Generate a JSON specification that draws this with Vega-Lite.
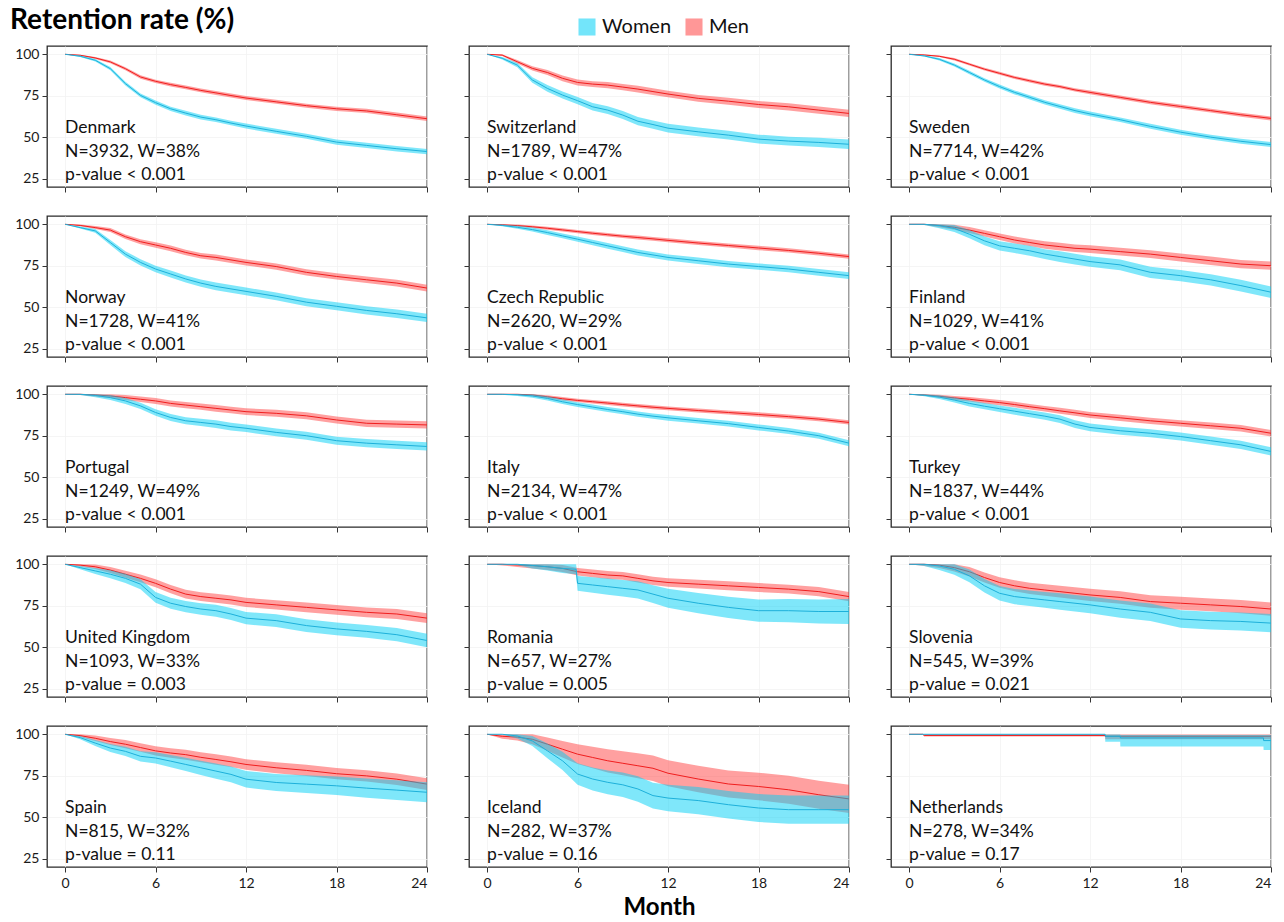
{
"$schema": "https://vega.github.io/schema/vega-lite/v6.json",
"padding": {"left": 10, "top": 7, "right": 5, "bottom": 0},
"title": {"text": "Retention rate (%)", "anchor": "start", "frame": "group", "fontSize": 28, "fontWeight": "bold", "font": "Lato", "color": "#000000", "dx": -37, "offset": -18},
"datasets": {
"lab": [
{"c":"Denmark","t":"Denmark\nN=3932, W=38%\np-value < 0.001"},
{"c":"Switzerland","t":"Switzerland\nN=1789, W=47%\np-value < 0.001"},
{"c":"Sweden","t":"Sweden\nN=7714, W=42%\np-value < 0.001"},
{"c":"Norway","t":"Norway\nN=1728, W=41%\np-value < 0.001"},
{"c":"Czech Republic","t":"Czech Republic\nN=2620, W=29%\np-value < 0.001"},
{"c":"Finland","t":"Finland\nN=1029, W=41%\np-value < 0.001"},
{"c":"Portugal","t":"Portugal\nN=1249, W=49%\np-value < 0.001"},
{"c":"Italy","t":"Italy\nN=2134, W=47%\np-value < 0.001"},
{"c":"Turkey","t":"Turkey\nN=1837, W=44%\np-value < 0.001"},
{"c":"United Kingdom","t":"United Kingdom\nN=1093, W=33%\np-value = 0.003"},
{"c":"Romania","t":"Romania\nN=657, W=27%\np-value = 0.005"},
{"c":"Slovenia","t":"Slovenia\nN=545, W=39%\np-value = 0.021"},
{"c":"Spain","t":"Spain\nN=815, W=32%\np-value = 0.11"},
{"c":"Iceland","t":"Iceland\nN=282, W=37%\np-value = 0.16"},
{"c":"Netherlands","t":"Netherlands\nN=278, W=34%\np-value = 0.17"}
],
"km": [
{"c":"Denmark","s":"Women","m":0,"v":100,"lo":100,"hi":100},
{"c":"Denmark","s":"Women","m":1,"v":98.8,"lo":98.4,"hi":99.2},
{"c":"Denmark","s":"Women","m":2,"v":96.4,"lo":95.7,"hi":97.1},
{"c":"Denmark","s":"Women","m":3,"v":91.3,"lo":90.3,"hi":92.3},
{"c":"Denmark","s":"Women","m":4,"v":82.3,"lo":81.2,"hi":83.4},
{"c":"Denmark","s":"Women","m":5,"v":75.2,"lo":74,"hi":76.4},
{"c":"Denmark","s":"Women","m":6,"v":70.8,"lo":69.5,"hi":72.1},
{"c":"Denmark","s":"Women","m":7,"v":67.1,"lo":65.8,"hi":68.4},
{"c":"Denmark","s":"Women","m":8,"v":64.5,"lo":63.1,"hi":65.9},
{"c":"Denmark","s":"Women","m":9,"v":62.1,"lo":60.7,"hi":63.5},
{"c":"Denmark","s":"Women","m":10,"v":60.5,"lo":59.1,"hi":61.9},
{"c":"Denmark","s":"Women","m":11,"v":58.5,"lo":57.1,"hi":59.9},
{"c":"Denmark","s":"Women","m":12,"v":56.7,"lo":55.2,"hi":58.2},
{"c":"Denmark","s":"Women","m":14,"v":53.5,"lo":52,"hi":55},
{"c":"Denmark","s":"Women","m":16,"v":50.5,"lo":49,"hi":52},
{"c":"Denmark","s":"Women","m":18,"v":47,"lo":45.4,"hi":48.6},
{"c":"Denmark","s":"Women","m":20,"v":45,"lo":43.4,"hi":46.6},
{"c":"Denmark","s":"Women","m":22,"v":43,"lo":41.4,"hi":44.6},
{"c":"Denmark","s":"Women","m":24,"v":41.3,"lo":39.7,"hi":42.9},
{"c":"Denmark","s":"Men","m":0,"v":100,"lo":100,"hi":100},
{"c":"Denmark","s":"Men","m":1,"v":99.4,"lo":99.1,"hi":99.7},
{"c":"Denmark","s":"Men","m":2,"v":97.8,"lo":97.2,"hi":98.4},
{"c":"Denmark","s":"Men","m":3,"v":95.4,"lo":94.6,"hi":96.2},
{"c":"Denmark","s":"Men","m":4,"v":91.3,"lo":90.4,"hi":92.2},
{"c":"Denmark","s":"Men","m":5,"v":86.3,"lo":85.3,"hi":87.3},
{"c":"Denmark","s":"Men","m":6,"v":83.7,"lo":82.7,"hi":84.7},
{"c":"Denmark","s":"Men","m":7,"v":81.7,"lo":80.6,"hi":82.8},
{"c":"Denmark","s":"Men","m":8,"v":80,"lo":78.9,"hi":81.1},
{"c":"Denmark","s":"Men","m":9,"v":78.2,"lo":77.1,"hi":79.3},
{"c":"Denmark","s":"Men","m":10,"v":76.7,"lo":75.5,"hi":77.9},
{"c":"Denmark","s":"Men","m":11,"v":75.1,"lo":73.9,"hi":76.3},
{"c":"Denmark","s":"Men","m":12,"v":73.6,"lo":72.4,"hi":74.8},
{"c":"Denmark","s":"Men","m":14,"v":71.3,"lo":70.1,"hi":72.5},
{"c":"Denmark","s":"Men","m":16,"v":69,"lo":67.8,"hi":70.2},
{"c":"Denmark","s":"Men","m":18,"v":67.1,"lo":65.8,"hi":68.4},
{"c":"Denmark","s":"Men","m":20,"v":65.8,"lo":64.5,"hi":67.1},
{"c":"Denmark","s":"Men","m":22,"v":63.5,"lo":62.2,"hi":64.8},
{"c":"Denmark","s":"Men","m":24,"v":61.1,"lo":59.8,"hi":62.4},
{"c":"Switzerland","s":"Women","m":0,"v":100,"lo":100,"hi":100},
{"c":"Switzerland","s":"Women","m":1,"v":97.6,"lo":96.9,"hi":98.3},
{"c":"Switzerland","s":"Women","m":2,"v":93.5,"lo":92.2,"hi":94.8},
{"c":"Switzerland","s":"Women","m":3,"v":84.5,"lo":82.8,"hi":86.2},
{"c":"Switzerland","s":"Women","m":4,"v":79.4,"lo":77.4,"hi":81.4},
{"c":"Switzerland","s":"Women","m":5,"v":75.4,"lo":73.3,"hi":77.5},
{"c":"Switzerland","s":"Women","m":6,"v":72,"lo":69.8,"hi":74.2},
{"c":"Switzerland","s":"Women","m":7,"v":68.3,"lo":66,"hi":70.6},
{"c":"Switzerland","s":"Women","m":8,"v":66.3,"lo":63.9,"hi":68.7},
{"c":"Switzerland","s":"Women","m":9,"v":63.3,"lo":60.9,"hi":65.7},
{"c":"Switzerland","s":"Women","m":10,"v":59.6,"lo":57.1,"hi":62.1},
{"c":"Switzerland","s":"Women","m":11,"v":57.6,"lo":55.1,"hi":60.1},
{"c":"Switzerland","s":"Women","m":12,"v":55.4,"lo":52.8,"hi":58},
{"c":"Switzerland","s":"Women","m":14,"v":53.2,"lo":50.6,"hi":55.8},
{"c":"Switzerland","s":"Women","m":16,"v":51.2,"lo":48.5,"hi":53.9},
{"c":"Switzerland","s":"Women","m":18,"v":48.8,"lo":46.1,"hi":51.5},
{"c":"Switzerland","s":"Women","m":20,"v":47.6,"lo":44.9,"hi":50.3},
{"c":"Switzerland","s":"Women","m":22,"v":46.8,"lo":44,"hi":49.6},
{"c":"Switzerland","s":"Women","m":24,"v":45.7,"lo":42.9,"hi":48.5},
{"c":"Switzerland","s":"Men","m":0,"v":100,"lo":100,"hi":100},
{"c":"Switzerland","s":"Men","m":1,"v":99.5,"lo":98.9,"hi":100},
{"c":"Switzerland","s":"Men","m":2,"v":95.5,"lo":94.5,"hi":96.5},
{"c":"Switzerland","s":"Men","m":3,"v":91.5,"lo":90.2,"hi":92.8},
{"c":"Switzerland","s":"Men","m":4,"v":89,"lo":87.5,"hi":90.5},
{"c":"Switzerland","s":"Men","m":5,"v":85.5,"lo":83.8,"hi":87.2},
{"c":"Switzerland","s":"Men","m":6,"v":83,"lo":81.2,"hi":84.8},
{"c":"Switzerland","s":"Men","m":7,"v":82,"lo":80.2,"hi":83.8},
{"c":"Switzerland","s":"Men","m":8,"v":81.4,"lo":79.5,"hi":83.3},
{"c":"Switzerland","s":"Men","m":9,"v":80.2,"lo":78.3,"hi":82.1},
{"c":"Switzerland","s":"Men","m":10,"v":79,"lo":77,"hi":81},
{"c":"Switzerland","s":"Men","m":11,"v":77.5,"lo":75.5,"hi":79.5},
{"c":"Switzerland","s":"Men","m":12,"v":76,"lo":74,"hi":78},
{"c":"Switzerland","s":"Men","m":14,"v":73.4,"lo":71.3,"hi":75.5},
{"c":"Switzerland","s":"Men","m":16,"v":71.7,"lo":69.6,"hi":73.8},
{"c":"Switzerland","s":"Men","m":18,"v":69.7,"lo":67.6,"hi":71.8},
{"c":"Switzerland","s":"Men","m":20,"v":68.3,"lo":66.1,"hi":70.5},
{"c":"Switzerland","s":"Men","m":22,"v":66.3,"lo":64.1,"hi":68.5},
{"c":"Switzerland","s":"Men","m":24,"v":64.3,"lo":62.1,"hi":66.5},
{"c":"Sweden","s":"Women","m":0,"v":100,"lo":100,"hi":100},
{"c":"Sweden","s":"Women","m":1,"v":99,"lo":98.6,"hi":99.4},
{"c":"Sweden","s":"Women","m":2,"v":97,"lo":96.3,"hi":97.7},
{"c":"Sweden","s":"Women","m":3,"v":93.5,"lo":92.6,"hi":94.4},
{"c":"Sweden","s":"Women","m":4,"v":89,"lo":88,"hi":90},
{"c":"Sweden","s":"Women","m":5,"v":84.5,"lo":83.4,"hi":85.6},
{"c":"Sweden","s":"Women","m":6,"v":80.5,"lo":79.3,"hi":81.7},
{"c":"Sweden","s":"Women","m":7,"v":77,"lo":75.8,"hi":78.2},
{"c":"Sweden","s":"Women","m":8,"v":74,"lo":72.7,"hi":75.3},
{"c":"Sweden","s":"Women","m":9,"v":71,"lo":69.7,"hi":72.3},
{"c":"Sweden","s":"Women","m":10,"v":68.5,"lo":67.1,"hi":69.9},
{"c":"Sweden","s":"Women","m":11,"v":66,"lo":64.6,"hi":67.4},
{"c":"Sweden","s":"Women","m":12,"v":64,"lo":62.6,"hi":65.4},
{"c":"Sweden","s":"Women","m":14,"v":60.5,"lo":59.1,"hi":61.9},
{"c":"Sweden","s":"Women","m":16,"v":56.5,"lo":55,"hi":58},
{"c":"Sweden","s":"Women","m":18,"v":53,"lo":51.5,"hi":54.5},
{"c":"Sweden","s":"Women","m":20,"v":50,"lo":48.5,"hi":51.5},
{"c":"Sweden","s":"Women","m":22,"v":47.5,"lo":46,"hi":49},
{"c":"Sweden","s":"Women","m":24,"v":45.5,"lo":44,"hi":47},
{"c":"Sweden","s":"Men","m":0,"v":100,"lo":100,"hi":100},
{"c":"Sweden","s":"Men","m":1,"v":99.6,"lo":99.3,"hi":99.9},
{"c":"Sweden","s":"Men","m":2,"v":98.8,"lo":98.3,"hi":99.3},
{"c":"Sweden","s":"Men","m":3,"v":97,"lo":96.3,"hi":97.7},
{"c":"Sweden","s":"Men","m":4,"v":94,"lo":93.2,"hi":94.8},
{"c":"Sweden","s":"Men","m":5,"v":91,"lo":90.2,"hi":91.8},
{"c":"Sweden","s":"Men","m":6,"v":88.5,"lo":87.6,"hi":89.4},
{"c":"Sweden","s":"Men","m":7,"v":86,"lo":85.1,"hi":86.9},
{"c":"Sweden","s":"Men","m":8,"v":84,"lo":83,"hi":85},
{"c":"Sweden","s":"Men","m":9,"v":82,"lo":81,"hi":83},
{"c":"Sweden","s":"Men","m":10,"v":80.5,"lo":79.5,"hi":81.5},
{"c":"Sweden","s":"Men","m":11,"v":78.5,"lo":77.5,"hi":79.5},
{"c":"Sweden","s":"Men","m":12,"v":77,"lo":75.9,"hi":78.1},
{"c":"Sweden","s":"Men","m":14,"v":74,"lo":72.9,"hi":75.1},
{"c":"Sweden","s":"Men","m":16,"v":71,"lo":69.9,"hi":72.1},
{"c":"Sweden","s":"Men","m":18,"v":68.5,"lo":67.3,"hi":69.7},
{"c":"Sweden","s":"Men","m":20,"v":66,"lo":64.8,"hi":67.2},
{"c":"Sweden","s":"Men","m":22,"v":63.5,"lo":62.3,"hi":64.7},
{"c":"Sweden","s":"Men","m":24,"v":61.3,"lo":60.1,"hi":62.5},
{"c":"Norway","s":"Women","m":0,"v":100,"lo":100,"hi":100},
{"c":"Norway","s":"Women","m":1,"v":98,"lo":97.4,"hi":98.6},
{"c":"Norway","s":"Women","m":2,"v":96,"lo":94.9,"hi":97.1},
{"c":"Norway","s":"Women","m":3,"v":89,"lo":87.5,"hi":90.5},
{"c":"Norway","s":"Women","m":4,"v":82,"lo":80.2,"hi":83.8},
{"c":"Norway","s":"Women","m":5,"v":77,"lo":75.1,"hi":78.9},
{"c":"Norway","s":"Women","m":6,"v":73,"lo":71,"hi":75},
{"c":"Norway","s":"Women","m":7,"v":70,"lo":67.9,"hi":72.1},
{"c":"Norway","s":"Women","m":8,"v":67,"lo":64.9,"hi":69.1},
{"c":"Norway","s":"Women","m":9,"v":64.5,"lo":62.3,"hi":66.7},
{"c":"Norway","s":"Women","m":10,"v":62.5,"lo":60.2,"hi":64.8},
{"c":"Norway","s":"Women","m":11,"v":61,"lo":58.7,"hi":63.3},
{"c":"Norway","s":"Women","m":12,"v":59.5,"lo":57.2,"hi":61.8},
{"c":"Norway","s":"Women","m":14,"v":56.5,"lo":54.1,"hi":58.9},
{"c":"Norway","s":"Women","m":16,"v":53,"lo":50.6,"hi":55.4},
{"c":"Norway","s":"Women","m":18,"v":50.5,"lo":48.1,"hi":52.9},
{"c":"Norway","s":"Women","m":20,"v":48,"lo":45.5,"hi":50.5},
{"c":"Norway","s":"Women","m":22,"v":46,"lo":43.5,"hi":48.5},
{"c":"Norway","s":"Women","m":24,"v":43.5,"lo":41,"hi":46},
{"c":"Norway","s":"Men","m":0,"v":100,"lo":100,"hi":100},
{"c":"Norway","s":"Men","m":1,"v":99.3,"lo":98.8,"hi":99.8},
{"c":"Norway","s":"Men","m":2,"v":98,"lo":97.1,"hi":98.9},
{"c":"Norway","s":"Men","m":3,"v":96.5,"lo":95.3,"hi":97.7},
{"c":"Norway","s":"Men","m":4,"v":92.5,"lo":91.1,"hi":93.9},
{"c":"Norway","s":"Men","m":5,"v":89.5,"lo":88,"hi":91},
{"c":"Norway","s":"Men","m":6,"v":87.5,"lo":85.9,"hi":89.1},
{"c":"Norway","s":"Men","m":7,"v":85.5,"lo":83.8,"hi":87.2},
{"c":"Norway","s":"Men","m":8,"v":83,"lo":81.3,"hi":84.7},
{"c":"Norway","s":"Men","m":9,"v":81,"lo":79.3,"hi":82.7},
{"c":"Norway","s":"Men","m":10,"v":80,"lo":78.2,"hi":81.8},
{"c":"Norway","s":"Men","m":11,"v":78.5,"lo":76.7,"hi":80.3},
{"c":"Norway","s":"Men","m":12,"v":77,"lo":75.2,"hi":78.8},
{"c":"Norway","s":"Men","m":14,"v":74.5,"lo":72.6,"hi":76.4},
{"c":"Norway","s":"Men","m":16,"v":71,"lo":69.1,"hi":72.9},
{"c":"Norway","s":"Men","m":18,"v":68.5,"lo":66.6,"hi":70.4},
{"c":"Norway","s":"Men","m":20,"v":66.5,"lo":64.5,"hi":68.5},
{"c":"Norway","s":"Men","m":22,"v":64.5,"lo":62.5,"hi":66.5},
{"c":"Norway","s":"Men","m":24,"v":61.5,"lo":59.5,"hi":63.5},
{"c":"Czech Republic","s":"Women","m":0,"v":100,"lo":100,"hi":100},
{"c":"Czech Republic","s":"Women","m":1,"v":99.3,"lo":98.8,"hi":99.8},
{"c":"Czech Republic","s":"Women","m":2,"v":98.2,"lo":97.3,"hi":99.1},
{"c":"Czech Republic","s":"Women","m":3,"v":96.8,"lo":95.6,"hi":98},
{"c":"Czech Republic","s":"Women","m":4,"v":95,"lo":93.6,"hi":96.4},
{"c":"Czech Republic","s":"Women","m":5,"v":93,"lo":91.5,"hi":94.5},
{"c":"Czech Republic","s":"Women","m":6,"v":91,"lo":89.4,"hi":92.6},
{"c":"Czech Republic","s":"Women","m":7,"v":89,"lo":87.3,"hi":90.7},
{"c":"Czech Republic","s":"Women","m":8,"v":87,"lo":85.3,"hi":88.7},
{"c":"Czech Republic","s":"Women","m":9,"v":85,"lo":83.3,"hi":86.7},
{"c":"Czech Republic","s":"Women","m":10,"v":83,"lo":81.2,"hi":84.8},
{"c":"Czech Republic","s":"Women","m":11,"v":81.5,"lo":79.7,"hi":83.3},
{"c":"Czech Republic","s":"Women","m":12,"v":80,"lo":78.2,"hi":81.8},
{"c":"Czech Republic","s":"Women","m":14,"v":78,"lo":76.1,"hi":79.9},
{"c":"Czech Republic","s":"Women","m":16,"v":76,"lo":74.1,"hi":77.9},
{"c":"Czech Republic","s":"Women","m":18,"v":74.5,"lo":72.6,"hi":76.4},
{"c":"Czech Republic","s":"Women","m":20,"v":73,"lo":71,"hi":75},
{"c":"Czech Republic","s":"Women","m":22,"v":71,"lo":69,"hi":73},
{"c":"Czech Republic","s":"Women","m":24,"v":69,"lo":67,"hi":71},
{"c":"Czech Republic","s":"Men","m":0,"v":100,"lo":100,"hi":100},
{"c":"Czech Republic","s":"Men","m":1,"v":99.7,"lo":99.4,"hi":100},
{"c":"Czech Republic","s":"Men","m":2,"v":99.2,"lo":98.6,"hi":99.8},
{"c":"Czech Republic","s":"Men","m":3,"v":98.5,"lo":97.7,"hi":99.3},
{"c":"Czech Republic","s":"Men","m":4,"v":97.6,"lo":96.7,"hi":98.5},
{"c":"Czech Republic","s":"Men","m":5,"v":96.6,"lo":95.6,"hi":97.6},
{"c":"Czech Republic","s":"Men","m":6,"v":95.6,"lo":94.6,"hi":96.6},
{"c":"Czech Republic","s":"Men","m":7,"v":94.6,"lo":93.5,"hi":95.7},
{"c":"Czech Republic","s":"Men","m":8,"v":93.7,"lo":92.6,"hi":94.8},
{"c":"Czech Republic","s":"Men","m":9,"v":92.8,"lo":91.7,"hi":93.9},
{"c":"Czech Republic","s":"Men","m":10,"v":92,"lo":90.8,"hi":93.2},
{"c":"Czech Republic","s":"Men","m":11,"v":91.2,"lo":90,"hi":92.4},
{"c":"Czech Republic","s":"Men","m":12,"v":90.3,"lo":89.1,"hi":91.5},
{"c":"Czech Republic","s":"Men","m":14,"v":88.7,"lo":87.5,"hi":89.9},
{"c":"Czech Republic","s":"Men","m":16,"v":87.2,"lo":86,"hi":88.4},
{"c":"Czech Republic","s":"Men","m":18,"v":85.7,"lo":84.4,"hi":87},
{"c":"Czech Republic","s":"Men","m":20,"v":84.2,"lo":82.9,"hi":85.5},
{"c":"Czech Republic","s":"Men","m":22,"v":82.5,"lo":81.2,"hi":83.8},
{"c":"Czech Republic","s":"Men","m":24,"v":80.5,"lo":79.2,"hi":81.8},
{"c":"Finland","s":"Women","m":0,"v":100,"lo":100,"hi":100},
{"c":"Finland","s":"Women","m":1,"v":100,"lo":99.5,"hi":100},
{"c":"Finland","s":"Women","m":2,"v":99.2,"lo":97.6,"hi":100},
{"c":"Finland","s":"Women","m":3,"v":97.5,"lo":95.4,"hi":99.6},
{"c":"Finland","s":"Women","m":4,"v":94,"lo":91.5,"hi":96.5},
{"c":"Finland","s":"Women","m":5,"v":90,"lo":87.4,"hi":92.6},
{"c":"Finland","s":"Women","m":6,"v":87,"lo":84.2,"hi":89.8},
{"c":"Finland","s":"Women","m":7,"v":85.5,"lo":82.6,"hi":88.4},
{"c":"Finland","s":"Women","m":8,"v":84,"lo":81,"hi":87},
{"c":"Finland","s":"Women","m":9,"v":82,"lo":79,"hi":85},
{"c":"Finland","s":"Women","m":10,"v":80.5,"lo":77.3,"hi":83.7},
{"c":"Finland","s":"Women","m":11,"v":79,"lo":75.8,"hi":82.2},
{"c":"Finland","s":"Women","m":12,"v":77.5,"lo":74.3,"hi":80.7},
{"c":"Finland","s":"Women","m":14,"v":75.5,"lo":72.2,"hi":78.8},
{"c":"Finland","s":"Women","m":16,"v":71,"lo":67.6,"hi":74.4},
{"c":"Finland","s":"Women","m":18,"v":69,"lo":65.6,"hi":72.4},
{"c":"Finland","s":"Women","m":20,"v":66.5,"lo":63.1,"hi":69.9},
{"c":"Finland","s":"Women","m":22,"v":63,"lo":59.5,"hi":66.5},
{"c":"Finland","s":"Women","m":24,"v":59,"lo":55.5,"hi":62.5},
{"c":"Finland","s":"Men","m":0,"v":100,"lo":100,"hi":100},
{"c":"Finland","s":"Men","m":1,"v":100,"lo":99.6,"hi":100},
{"c":"Finland","s":"Men","m":2,"v":99.3,"lo":98.2,"hi":100},
{"c":"Finland","s":"Men","m":3,"v":98.2,"lo":96.7,"hi":99.7},
{"c":"Finland","s":"Men","m":4,"v":96.5,"lo":94.7,"hi":98.3},
{"c":"Finland","s":"Men","m":5,"v":94.5,"lo":92.6,"hi":96.4},
{"c":"Finland","s":"Men","m":6,"v":92.5,"lo":90.5,"hi":94.5},
{"c":"Finland","s":"Men","m":7,"v":90.5,"lo":88.4,"hi":92.6},
{"c":"Finland","s":"Men","m":8,"v":89,"lo":86.9,"hi":91.1},
{"c":"Finland","s":"Men","m":9,"v":87.5,"lo":85.3,"hi":89.7},
{"c":"Finland","s":"Men","m":10,"v":86.5,"lo":84.2,"hi":88.8},
{"c":"Finland","s":"Men","m":11,"v":85.5,"lo":83.2,"hi":87.8},
{"c":"Finland","s":"Men","m":12,"v":85,"lo":82.7,"hi":87.3},
{"c":"Finland","s":"Men","m":14,"v":83.5,"lo":81.1,"hi":85.9},
{"c":"Finland","s":"Men","m":16,"v":82,"lo":79.6,"hi":84.4},
{"c":"Finland","s":"Men","m":18,"v":80,"lo":77.6,"hi":82.4},
{"c":"Finland","s":"Men","m":20,"v":78,"lo":75.5,"hi":80.5},
{"c":"Finland","s":"Men","m":22,"v":76,"lo":73.5,"hi":78.5},
{"c":"Finland","s":"Men","m":24,"v":75,"lo":72.5,"hi":77.5},
{"c":"Portugal","s":"Women","m":0,"v":100,"lo":100,"hi":100},
{"c":"Portugal","s":"Women","m":1,"v":100,"lo":99.6,"hi":100},
{"c":"Portugal","s":"Women","m":2,"v":99.3,"lo":98.2,"hi":100},
{"c":"Portugal","s":"Women","m":3,"v":98,"lo":96.5,"hi":99.5},
{"c":"Portugal","s":"Women","m":4,"v":96,"lo":94.2,"hi":97.8},
{"c":"Portugal","s":"Women","m":5,"v":93,"lo":91.1,"hi":94.9},
{"c":"Portugal","s":"Women","m":6,"v":89,"lo":87,"hi":91},
{"c":"Portugal","s":"Women","m":7,"v":86,"lo":83.9,"hi":88.1},
{"c":"Portugal","s":"Women","m":8,"v":84,"lo":81.9,"hi":86.1},
{"c":"Portugal","s":"Women","m":9,"v":83,"lo":80.8,"hi":85.2},
{"c":"Portugal","s":"Women","m":10,"v":82,"lo":79.7,"hi":84.3},
{"c":"Portugal","s":"Women","m":11,"v":80.5,"lo":78.2,"hi":82.8},
{"c":"Portugal","s":"Women","m":12,"v":79.5,"lo":77.2,"hi":81.8},
{"c":"Portugal","s":"Women","m":14,"v":77,"lo":74.6,"hi":79.4},
{"c":"Portugal","s":"Women","m":16,"v":75,"lo":72.6,"hi":77.4},
{"c":"Portugal","s":"Women","m":18,"v":72,"lo":69.6,"hi":74.4},
{"c":"Portugal","s":"Women","m":20,"v":70.5,"lo":68,"hi":73},
{"c":"Portugal","s":"Women","m":22,"v":69.5,"lo":67,"hi":72},
{"c":"Portugal","s":"Women","m":24,"v":68.5,"lo":66,"hi":71},
{"c":"Portugal","s":"Men","m":0,"v":100,"lo":100,"hi":100},
{"c":"Portugal","s":"Men","m":1,"v":100,"lo":99.6,"hi":100},
{"c":"Portugal","s":"Men","m":2,"v":99.6,"lo":98.6,"hi":100},
{"c":"Portugal","s":"Men","m":3,"v":99,"lo":97.7,"hi":100},
{"c":"Portugal","s":"Men","m":4,"v":98,"lo":96.5,"hi":99.5},
{"c":"Portugal","s":"Men","m":5,"v":97,"lo":95.3,"hi":98.7},
{"c":"Portugal","s":"Men","m":6,"v":96,"lo":94.2,"hi":97.8},
{"c":"Portugal","s":"Men","m":7,"v":94.5,"lo":92.7,"hi":96.3},
{"c":"Portugal","s":"Men","m":8,"v":93.5,"lo":91.6,"hi":95.4},
{"c":"Portugal","s":"Men","m":9,"v":92.5,"lo":90.6,"hi":94.4},
{"c":"Portugal","s":"Men","m":10,"v":91.5,"lo":89.5,"hi":93.5},
{"c":"Portugal","s":"Men","m":11,"v":90.5,"lo":88.5,"hi":92.5},
{"c":"Portugal","s":"Men","m":12,"v":89.5,"lo":87.5,"hi":91.5},
{"c":"Portugal","s":"Men","m":14,"v":88.5,"lo":86.4,"hi":90.6},
{"c":"Portugal","s":"Men","m":16,"v":87,"lo":84.9,"hi":89.1},
{"c":"Portugal","s":"Men","m":18,"v":84.5,"lo":82.4,"hi":86.6},
{"c":"Portugal","s":"Men","m":20,"v":82.5,"lo":80.3,"hi":84.7},
{"c":"Portugal","s":"Men","m":22,"v":82,"lo":79.8,"hi":84.2},
{"c":"Portugal","s":"Men","m":24,"v":81.5,"lo":79.3,"hi":83.7},
{"c":"Italy","s":"Women","m":0,"v":100,"lo":100,"hi":100},
{"c":"Italy","s":"Women","m":1,"v":100,"lo":99.7,"hi":100},
{"c":"Italy","s":"Women","m":2,"v":99.7,"lo":98.9,"hi":100},
{"c":"Italy","s":"Women","m":3,"v":99,"lo":97.9,"hi":100},
{"c":"Italy","s":"Women","m":4,"v":97.5,"lo":96.2,"hi":98.8},
{"c":"Italy","s":"Women","m":5,"v":95.5,"lo":94.1,"hi":96.9},
{"c":"Italy","s":"Women","m":6,"v":93.8,"lo":92.4,"hi":95.2},
{"c":"Italy","s":"Women","m":7,"v":92.3,"lo":90.8,"hi":93.8},
{"c":"Italy","s":"Women","m":8,"v":90.8,"lo":89.3,"hi":92.3},
{"c":"Italy","s":"Women","m":9,"v":89.5,"lo":87.9,"hi":91.1},
{"c":"Italy","s":"Women","m":10,"v":88,"lo":86.4,"hi":89.6},
{"c":"Italy","s":"Women","m":11,"v":86.8,"lo":85.2,"hi":88.4},
{"c":"Italy","s":"Women","m":12,"v":85.8,"lo":84.1,"hi":87.5},
{"c":"Italy","s":"Women","m":14,"v":84,"lo":82.3,"hi":85.7},
{"c":"Italy","s":"Women","m":16,"v":82.3,"lo":80.6,"hi":84},
{"c":"Italy","s":"Women","m":18,"v":80,"lo":78.2,"hi":81.8},
{"c":"Italy","s":"Women","m":20,"v":77.8,"lo":76,"hi":79.6},
{"c":"Italy","s":"Women","m":22,"v":75,"lo":73.2,"hi":76.8},
{"c":"Italy","s":"Women","m":24,"v":70.5,"lo":68.7,"hi":72.3},
{"c":"Italy","s":"Men","m":0,"v":100,"lo":100,"hi":100},
{"c":"Italy","s":"Men","m":1,"v":100,"lo":99.8,"hi":100},
{"c":"Italy","s":"Men","m":2,"v":100,"lo":99.6,"hi":100},
{"c":"Italy","s":"Men","m":3,"v":99.6,"lo":98.8,"hi":100},
{"c":"Italy","s":"Men","m":4,"v":98.5,"lo":97.6,"hi":99.4},
{"c":"Italy","s":"Men","m":5,"v":97.3,"lo":96.3,"hi":98.3},
{"c":"Italy","s":"Men","m":6,"v":96.3,"lo":95.3,"hi":97.3},
{"c":"Italy","s":"Men","m":7,"v":95.5,"lo":94.4,"hi":96.6},
{"c":"Italy","s":"Men","m":8,"v":94.7,"lo":93.6,"hi":95.8},
{"c":"Italy","s":"Men","m":9,"v":93.8,"lo":92.7,"hi":94.9},
{"c":"Italy","s":"Men","m":10,"v":93,"lo":91.8,"hi":94.2},
{"c":"Italy","s":"Men","m":11,"v":92.2,"lo":91,"hi":93.4},
{"c":"Italy","s":"Men","m":12,"v":91.5,"lo":90.3,"hi":92.7},
{"c":"Italy","s":"Men","m":14,"v":90.2,"lo":89,"hi":91.4},
{"c":"Italy","s":"Men","m":16,"v":89,"lo":87.8,"hi":90.2},
{"c":"Italy","s":"Men","m":18,"v":87.8,"lo":86.5,"hi":89.1},
{"c":"Italy","s":"Men","m":20,"v":86.5,"lo":85.2,"hi":87.8},
{"c":"Italy","s":"Men","m":22,"v":85,"lo":83.7,"hi":86.3},
{"c":"Italy","s":"Men","m":24,"v":83,"lo":81.7,"hi":84.3},
{"c":"Turkey","s":"Women","m":0,"v":100,"lo":100,"hi":100},
{"c":"Turkey","s":"Women","m":1,"v":99.4,"lo":98.8,"hi":100},
{"c":"Turkey","s":"Women","m":2,"v":98.3,"lo":97.2,"hi":99.4},
{"c":"Turkey","s":"Women","m":3,"v":96.5,"lo":95,"hi":98},
{"c":"Turkey","s":"Women","m":4,"v":94.5,"lo":92.7,"hi":96.3},
{"c":"Turkey","s":"Women","m":5,"v":92.8,"lo":90.9,"hi":94.7},
{"c":"Turkey","s":"Women","m":6,"v":91.3,"lo":89.3,"hi":93.3},
{"c":"Turkey","s":"Women","m":7,"v":89.8,"lo":87.7,"hi":91.9},
{"c":"Turkey","s":"Women","m":8,"v":88.3,"lo":86.2,"hi":90.4},
{"c":"Turkey","s":"Women","m":9,"v":86.8,"lo":84.6,"hi":89},
{"c":"Turkey","s":"Women","m":10,"v":85,"lo":82.7,"hi":87.3},
{"c":"Turkey","s":"Women","m":11,"v":82,"lo":79.7,"hi":84.3},
{"c":"Turkey","s":"Women","m":12,"v":80,"lo":77.7,"hi":82.3},
{"c":"Turkey","s":"Women","m":14,"v":78,"lo":75.6,"hi":80.4},
{"c":"Turkey","s":"Women","m":16,"v":76.5,"lo":74.1,"hi":78.9},
{"c":"Turkey","s":"Women","m":18,"v":74.5,"lo":72.1,"hi":76.9},
{"c":"Turkey","s":"Women","m":20,"v":72,"lo":69.5,"hi":74.5},
{"c":"Turkey","s":"Women","m":22,"v":69.5,"lo":67,"hi":72},
{"c":"Turkey","s":"Women","m":24,"v":65.5,"lo":63,"hi":68},
{"c":"Turkey","s":"Men","m":0,"v":100,"lo":100,"hi":100},
{"c":"Turkey","s":"Men","m":1,"v":99.6,"lo":99.1,"hi":100},
{"c":"Turkey","s":"Men","m":2,"v":98.8,"lo":97.9,"hi":99.7},
{"c":"Turkey","s":"Men","m":3,"v":97.8,"lo":96.6,"hi":99},
{"c":"Turkey","s":"Men","m":4,"v":97,"lo":95.6,"hi":98.4},
{"c":"Turkey","s":"Men","m":5,"v":96,"lo":94.5,"hi":97.5},
{"c":"Turkey","s":"Men","m":6,"v":95,"lo":93.4,"hi":96.6},
{"c":"Turkey","s":"Men","m":7,"v":93.8,"lo":92.1,"hi":95.5},
{"c":"Turkey","s":"Men","m":8,"v":92.5,"lo":90.8,"hi":94.2},
{"c":"Turkey","s":"Men","m":9,"v":91.3,"lo":89.6,"hi":93},
{"c":"Turkey","s":"Men","m":10,"v":90,"lo":88.2,"hi":91.8},
{"c":"Turkey","s":"Men","m":11,"v":88.8,"lo":87,"hi":90.6},
{"c":"Turkey","s":"Men","m":12,"v":87.5,"lo":85.7,"hi":89.3},
{"c":"Turkey","s":"Men","m":14,"v":85.8,"lo":83.9,"hi":87.7},
{"c":"Turkey","s":"Men","m":16,"v":84,"lo":82.1,"hi":85.9},
{"c":"Turkey","s":"Men","m":18,"v":82.5,"lo":80.6,"hi":84.4},
{"c":"Turkey","s":"Men","m":20,"v":81,"lo":79,"hi":83},
{"c":"Turkey","s":"Men","m":22,"v":79.5,"lo":77.5,"hi":81.5},
{"c":"Turkey","s":"Men","m":24,"v":76.5,"lo":74.5,"hi":78.5},
{"c":"United Kingdom","s":"Women","m":0,"v":100,"lo":100,"hi":100},
{"c":"United Kingdom","s":"Women","m":1,"v":98,"lo":97,"hi":99},
{"c":"United Kingdom","s":"Women","m":2,"v":96,"lo":94.2,"hi":97.8},
{"c":"United Kingdom","s":"Women","m":3,"v":94,"lo":91.6,"hi":96.4},
{"c":"United Kingdom","s":"Women","m":4,"v":91.5,"lo":88.7,"hi":94.3},
{"c":"United Kingdom","s":"Women","m":5,"v":88,"lo":85,"hi":91},
{"c":"United Kingdom","s":"Women","m":6,"v":80,"lo":76.8,"hi":83.2},
{"c":"United Kingdom","s":"Women","m":7,"v":76.5,"lo":73.2,"hi":79.8},
{"c":"United Kingdom","s":"Women","m":8,"v":74.5,"lo":71.1,"hi":77.9},
{"c":"United Kingdom","s":"Women","m":9,"v":73,"lo":69.5,"hi":76.5},
{"c":"United Kingdom","s":"Women","m":10,"v":72,"lo":68.4,"hi":75.6},
{"c":"United Kingdom","s":"Women","m":11,"v":70,"lo":66.4,"hi":73.6},
{"c":"United Kingdom","s":"Women","m":12,"v":67.5,"lo":63.8,"hi":71.2},
{"c":"United Kingdom","s":"Women","m":14,"v":66,"lo":62.2,"hi":69.8},
{"c":"United Kingdom","s":"Women","m":16,"v":63,"lo":59.2,"hi":66.8},
{"c":"United Kingdom","s":"Women","m":18,"v":61,"lo":57.1,"hi":64.9},
{"c":"United Kingdom","s":"Women","m":20,"v":59.5,"lo":55.6,"hi":63.4},
{"c":"United Kingdom","s":"Women","m":22,"v":57.5,"lo":53.5,"hi":61.5},
{"c":"United Kingdom","s":"Women","m":24,"v":54,"lo":50,"hi":58},
{"c":"United Kingdom","s":"Men","m":0,"v":100,"lo":100,"hi":100},
{"c":"United Kingdom","s":"Men","m":1,"v":99.5,"lo":98.7,"hi":100},
{"c":"United Kingdom","s":"Men","m":2,"v":98.5,"lo":97.1,"hi":99.9},
{"c":"United Kingdom","s":"Men","m":3,"v":96.5,"lo":94.7,"hi":98.3},
{"c":"United Kingdom","s":"Men","m":4,"v":94,"lo":91.9,"hi":96.1},
{"c":"United Kingdom","s":"Men","m":5,"v":91.5,"lo":89.2,"hi":93.8},
{"c":"United Kingdom","s":"Men","m":6,"v":88.5,"lo":86.1,"hi":90.9},
{"c":"United Kingdom","s":"Men","m":7,"v":85,"lo":82.5,"hi":87.5},
{"c":"United Kingdom","s":"Men","m":8,"v":82,"lo":79.4,"hi":84.6},
{"c":"United Kingdom","s":"Men","m":9,"v":80.5,"lo":77.9,"hi":83.1},
{"c":"United Kingdom","s":"Men","m":10,"v":79.5,"lo":76.8,"hi":82.2},
{"c":"United Kingdom","s":"Men","m":11,"v":78.5,"lo":75.8,"hi":81.2},
{"c":"United Kingdom","s":"Men","m":12,"v":77,"lo":74.2,"hi":79.8},
{"c":"United Kingdom","s":"Men","m":14,"v":75.5,"lo":72.7,"hi":78.3},
{"c":"United Kingdom","s":"Men","m":16,"v":74,"lo":71.1,"hi":76.9},
{"c":"United Kingdom","s":"Men","m":18,"v":72.5,"lo":69.6,"hi":75.4},
{"c":"United Kingdom","s":"Men","m":20,"v":71,"lo":68.1,"hi":73.9},
{"c":"United Kingdom","s":"Men","m":22,"v":70,"lo":67,"hi":73},
{"c":"United Kingdom","s":"Men","m":24,"v":67.5,"lo":64.5,"hi":70.5},
{"c":"Romania","s":"Women","m":0,"v":100,"lo":100,"hi":100},
{"c":"Romania","s":"Women","m":1,"v":100,"lo":100,"hi":100},
{"c":"Romania","s":"Women","m":2,"v":100,"lo":99.5,"hi":100},
{"c":"Romania","s":"Women","m":3,"v":99.3,"lo":97.5,"hi":100},
{"c":"Romania","s":"Women","m":4,"v":98.5,"lo":96.2,"hi":100},
{"c":"Romania","s":"Women","m":5,"v":97.5,"lo":94.8,"hi":100},
{"c":"Romania","s":"Women","m":5.9,"v":97,"lo":94,"hi":100},
{"c":"Romania","s":"Women","m":6,"v":88.5,"lo":84,"hi":93},
{"c":"Romania","s":"Women","m":7,"v":87.5,"lo":82.8,"hi":92.2},
{"c":"Romania","s":"Women","m":8,"v":86.5,"lo":81.6,"hi":91.4},
{"c":"Romania","s":"Women","m":9,"v":85.5,"lo":80.5,"hi":90.5},
{"c":"Romania","s":"Women","m":10,"v":84.5,"lo":79.3,"hi":89.7},
{"c":"Romania","s":"Women","m":11,"v":82,"lo":76.6,"hi":87.4},
{"c":"Romania","s":"Women","m":12,"v":79.5,"lo":73.8,"hi":85.2},
{"c":"Romania","s":"Women","m":14,"v":76.5,"lo":70.4,"hi":82.6},
{"c":"Romania","s":"Women","m":16,"v":74,"lo":67.6,"hi":80.4},
{"c":"Romania","s":"Women","m":18,"v":72,"lo":65.3,"hi":78.7},
{"c":"Romania","s":"Women","m":20,"v":72,"lo":65,"hi":79},
{"c":"Romania","s":"Women","m":22,"v":71.5,"lo":64.3,"hi":78.7},
{"c":"Romania","s":"Women","m":24,"v":71.5,"lo":64,"hi":79},
{"c":"Romania","s":"Men","m":0,"v":100,"lo":100,"hi":100},
{"c":"Romania","s":"Men","m":1,"v":100,"lo":99.3,"hi":100},
{"c":"Romania","s":"Men","m":2,"v":99.6,"lo":98.3,"hi":100},
{"c":"Romania","s":"Men","m":3,"v":99.2,"lo":97.5,"hi":100},
{"c":"Romania","s":"Men","m":4,"v":98.5,"lo":96.5,"hi":100},
{"c":"Romania","s":"Men","m":5,"v":97.5,"lo":95.4,"hi":99.6},
{"c":"Romania","s":"Men","m":6,"v":95.5,"lo":93.3,"hi":97.7},
{"c":"Romania","s":"Men","m":7,"v":94.5,"lo":92.2,"hi":96.8},
{"c":"Romania","s":"Men","m":8,"v":93.5,"lo":91.1,"hi":95.9},
{"c":"Romania","s":"Men","m":9,"v":93,"lo":90.6,"hi":95.4},
{"c":"Romania","s":"Men","m":10,"v":91.5,"lo":89,"hi":94},
{"c":"Romania","s":"Men","m":11,"v":90,"lo":87.5,"hi":92.5},
{"c":"Romania","s":"Men","m":12,"v":89,"lo":86.4,"hi":91.6},
{"c":"Romania","s":"Men","m":14,"v":88,"lo":85.4,"hi":90.6},
{"c":"Romania","s":"Men","m":16,"v":87,"lo":84.3,"hi":89.7},
{"c":"Romania","s":"Men","m":18,"v":86,"lo":83.3,"hi":88.7},
{"c":"Romania","s":"Men","m":20,"v":85,"lo":82.3,"hi":87.7},
{"c":"Romania","s":"Men","m":22,"v":83.5,"lo":80.7,"hi":86.3},
{"c":"Romania","s":"Men","m":24,"v":80.5,"lo":77.7,"hi":83.3},
{"c":"Slovenia","s":"Women","m":0,"v":100,"lo":100,"hi":100},
{"c":"Slovenia","s":"Women","m":1,"v":100,"lo":99,"hi":100},
{"c":"Slovenia","s":"Women","m":2,"v":99,"lo":96.5,"hi":100},
{"c":"Slovenia","s":"Women","m":3,"v":97,"lo":93.7,"hi":100},
{"c":"Slovenia","s":"Women","m":4,"v":93,"lo":89.1,"hi":96.9},
{"c":"Slovenia","s":"Women","m":5,"v":87,"lo":82.9,"hi":91.1},
{"c":"Slovenia","s":"Women","m":6,"v":82.5,"lo":78.1,"hi":86.9},
{"c":"Slovenia","s":"Women","m":7,"v":80.5,"lo":75.9,"hi":85.1},
{"c":"Slovenia","s":"Women","m":8,"v":79.5,"lo":74.8,"hi":84.2},
{"c":"Slovenia","s":"Women","m":9,"v":78.5,"lo":73.7,"hi":83.3},
{"c":"Slovenia","s":"Women","m":10,"v":77.5,"lo":72.5,"hi":82.5},
{"c":"Slovenia","s":"Women","m":11,"v":76.5,"lo":71.5,"hi":81.5},
{"c":"Slovenia","s":"Women","m":12,"v":75.5,"lo":70.4,"hi":80.6},
{"c":"Slovenia","s":"Women","m":14,"v":73,"lo":67.8,"hi":78.2},
{"c":"Slovenia","s":"Women","m":16,"v":71,"lo":65.7,"hi":76.3},
{"c":"Slovenia","s":"Women","m":18,"v":67,"lo":61.7,"hi":72.3},
{"c":"Slovenia","s":"Women","m":20,"v":66,"lo":60.6,"hi":71.4},
{"c":"Slovenia","s":"Women","m":22,"v":65.5,"lo":60.1,"hi":70.9},
{"c":"Slovenia","s":"Women","m":24,"v":64.5,"lo":59,"hi":70},
{"c":"Slovenia","s":"Men","m":0,"v":100,"lo":100,"hi":100},
{"c":"Slovenia","s":"Men","m":1,"v":100,"lo":99,"hi":100},
{"c":"Slovenia","s":"Men","m":2,"v":99.5,"lo":97.7,"hi":100},
{"c":"Slovenia","s":"Men","m":3,"v":98,"lo":95.6,"hi":100},
{"c":"Slovenia","s":"Men","m":4,"v":95.5,"lo":92.7,"hi":98.3},
{"c":"Slovenia","s":"Men","m":5,"v":92,"lo":89,"hi":95},
{"c":"Slovenia","s":"Men","m":6,"v":89,"lo":85.8,"hi":92.2},
{"c":"Slovenia","s":"Men","m":7,"v":87,"lo":83.7,"hi":90.3},
{"c":"Slovenia","s":"Men","m":8,"v":85.5,"lo":82.1,"hi":88.9},
{"c":"Slovenia","s":"Men","m":9,"v":84.5,"lo":81,"hi":88},
{"c":"Slovenia","s":"Men","m":10,"v":83.5,"lo":79.9,"hi":87.1},
{"c":"Slovenia","s":"Men","m":11,"v":82.5,"lo":78.9,"hi":86.1},
{"c":"Slovenia","s":"Men","m":12,"v":81.5,"lo":77.8,"hi":85.2},
{"c":"Slovenia","s":"Men","m":14,"v":80,"lo":76.2,"hi":83.8},
{"c":"Slovenia","s":"Men","m":16,"v":77.5,"lo":73.7,"hi":81.3},
{"c":"Slovenia","s":"Men","m":18,"v":76.5,"lo":72.6,"hi":80.4},
{"c":"Slovenia","s":"Men","m":20,"v":75.5,"lo":71.6,"hi":79.4},
{"c":"Slovenia","s":"Men","m":22,"v":74.5,"lo":70.5,"hi":78.5},
{"c":"Slovenia","s":"Men","m":24,"v":73,"lo":69,"hi":77},
{"c":"Spain","s":"Women","m":0,"v":100,"lo":100,"hi":100},
{"c":"Spain","s":"Women","m":1,"v":98,"lo":97,"hi":99},
{"c":"Spain","s":"Women","m":2,"v":94.7,"lo":92.9,"hi":96.5},
{"c":"Spain","s":"Women","m":3,"v":91.7,"lo":89.3,"hi":94.1},
{"c":"Spain","s":"Women","m":4,"v":89.7,"lo":86.9,"hi":92.5},
{"c":"Spain","s":"Women","m":5,"v":86.7,"lo":83.6,"hi":89.8},
{"c":"Spain","s":"Women","m":6,"v":85.7,"lo":82.3,"hi":89.1},
{"c":"Spain","s":"Women","m":7,"v":83.8,"lo":80.1,"hi":87.5},
{"c":"Spain","s":"Women","m":8,"v":81.8,"lo":77.8,"hi":85.8},
{"c":"Spain","s":"Women","m":9,"v":79.8,"lo":75.5,"hi":84.1},
{"c":"Spain","s":"Women","m":10,"v":77.8,"lo":73.2,"hi":82.4},
{"c":"Spain","s":"Women","m":11,"v":75.8,"lo":71,"hi":80.6},
{"c":"Spain","s":"Women","m":12,"v":72.9,"lo":67.9,"hi":77.9},
{"c":"Spain","s":"Women","m":14,"v":70.9,"lo":65.7,"hi":76.1},
{"c":"Spain","s":"Women","m":16,"v":69.9,"lo":64.5,"hi":75.3},
{"c":"Spain","s":"Women","m":18,"v":68.9,"lo":63.3,"hi":74.5},
{"c":"Spain","s":"Women","m":20,"v":67.5,"lo":61.7,"hi":73.3},
{"c":"Spain","s":"Women","m":22,"v":66.3,"lo":60.4,"hi":72.2},
{"c":"Spain","s":"Women","m":24,"v":65,"lo":59,"hi":71},
{"c":"Spain","s":"Men","m":0,"v":100,"lo":100,"hi":100},
{"c":"Spain","s":"Men","m":1,"v":99.2,"lo":98.3,"hi":100},
{"c":"Spain","s":"Men","m":2,"v":97.6,"lo":96,"hi":99.2},
{"c":"Spain","s":"Men","m":3,"v":95.6,"lo":93.5,"hi":97.7},
{"c":"Spain","s":"Men","m":4,"v":94,"lo":91.5,"hi":96.5},
{"c":"Spain","s":"Men","m":5,"v":92,"lo":89.4,"hi":94.6},
{"c":"Spain","s":"Men","m":6,"v":90,"lo":87.2,"hi":92.8},
{"c":"Spain","s":"Men","m":7,"v":88.7,"lo":85.8,"hi":91.6},
{"c":"Spain","s":"Men","m":8,"v":87.7,"lo":84.7,"hi":90.7},
{"c":"Spain","s":"Men","m":9,"v":86.1,"lo":83.1,"hi":89.1},
{"c":"Spain","s":"Men","m":10,"v":84.8,"lo":81.6,"hi":88},
{"c":"Spain","s":"Men","m":11,"v":83.4,"lo":80.2,"hi":86.6},
{"c":"Spain","s":"Men","m":12,"v":81.8,"lo":78.6,"hi":85},
{"c":"Spain","s":"Men","m":14,"v":79.8,"lo":76.5,"hi":83.1},
{"c":"Spain","s":"Men","m":16,"v":78.2,"lo":74.8,"hi":81.6},
{"c":"Spain","s":"Men","m":18,"v":76.2,"lo":72.8,"hi":79.6},
{"c":"Spain","s":"Men","m":20,"v":74.9,"lo":71.5,"hi":78.3},
{"c":"Spain","s":"Men","m":22,"v":72.9,"lo":69.4,"hi":76.4},
{"c":"Spain","s":"Men","m":24,"v":69.9,"lo":66.4,"hi":73.4},
{"c":"Iceland","s":"Women","m":0,"v":100,"lo":100,"hi":100},
{"c":"Iceland","s":"Women","m":1,"v":100,"lo":100,"hi":100},
{"c":"Iceland","s":"Women","m":2,"v":99,"lo":97.5,"hi":100},
{"c":"Iceland","s":"Women","m":3,"v":96,"lo":93,"hi":99},
{"c":"Iceland","s":"Women","m":4,"v":90,"lo":85.5,"hi":94.5},
{"c":"Iceland","s":"Women","m":5,"v":84,"lo":78.5,"hi":89.5},
{"c":"Iceland","s":"Women","m":6,"v":76,"lo":69.5,"hi":82.5},
{"c":"Iceland","s":"Women","m":7,"v":73,"lo":66,"hi":80},
{"c":"Iceland","s":"Women","m":8,"v":71,"lo":63.8,"hi":78.2},
{"c":"Iceland","s":"Women","m":9,"v":69.5,"lo":62.1,"hi":76.9},
{"c":"Iceland","s":"Women","m":10,"v":67,"lo":59.3,"hi":74.7},
{"c":"Iceland","s":"Women","m":11,"v":63,"lo":55.2,"hi":70.8},
{"c":"Iceland","s":"Women","m":12,"v":61.5,"lo":53.5,"hi":69.5},
{"c":"Iceland","s":"Women","m":14,"v":60,"lo":51.8,"hi":68.2},
{"c":"Iceland","s":"Women","m":16,"v":57.5,"lo":49.2,"hi":65.8},
{"c":"Iceland","s":"Women","m":18,"v":55.5,"lo":47.1,"hi":63.9},
{"c":"Iceland","s":"Women","m":20,"v":54.5,"lo":46,"hi":63},
{"c":"Iceland","s":"Women","m":22,"v":54.5,"lo":46,"hi":63},
{"c":"Iceland","s":"Women","m":24,"v":54.5,"lo":46,"hi":63},
{"c":"Iceland","s":"Men","m":0,"v":100,"lo":100,"hi":100},
{"c":"Iceland","s":"Men","m":1,"v":98.8,"lo":97.3,"hi":100},
{"c":"Iceland","s":"Men","m":2,"v":98.3,"lo":96.3,"hi":100},
{"c":"Iceland","s":"Men","m":3,"v":97,"lo":94,"hi":100},
{"c":"Iceland","s":"Men","m":4,"v":94,"lo":90,"hi":98},
{"c":"Iceland","s":"Men","m":5,"v":91,"lo":86,"hi":96},
{"c":"Iceland","s":"Men","m":6,"v":88,"lo":82,"hi":94},
{"c":"Iceland","s":"Men","m":7,"v":86,"lo":79.5,"hi":92.5},
{"c":"Iceland","s":"Men","m":8,"v":84,"lo":77,"hi":91},
{"c":"Iceland","s":"Men","m":9,"v":82.5,"lo":75.3,"hi":89.7},
{"c":"Iceland","s":"Men","m":10,"v":81,"lo":73.5,"hi":88.5},
{"c":"Iceland","s":"Men","m":11,"v":79.5,"lo":71.8,"hi":87.2},
{"c":"Iceland","s":"Men","m":12,"v":76.5,"lo":68.7,"hi":84.3},
{"c":"Iceland","s":"Men","m":14,"v":73,"lo":65,"hi":81},
{"c":"Iceland","s":"Men","m":16,"v":70,"lo":61.8,"hi":78.2},
{"c":"Iceland","s":"Men","m":18,"v":68.5,"lo":60.2,"hi":76.8},
{"c":"Iceland","s":"Men","m":20,"v":66.5,"lo":58.1,"hi":74.9},
{"c":"Iceland","s":"Men","m":22,"v":63.5,"lo":55,"hi":72},
{"c":"Iceland","s":"Men","m":24,"v":61,"lo":52.5,"hi":69.5},
{"c":"Netherlands","s":"Women","m":0,"v":100,"lo":100,"hi":100},
{"c":"Netherlands","s":"Women","m":13,"v":100,"lo":100,"hi":100},
{"c":"Netherlands","s":"Women","m":13.01,"v":98.8,"lo":95.5,"hi":99.8},
{"c":"Netherlands","s":"Women","m":14,"v":98.8,"lo":95.5,"hi":99.8},
{"c":"Netherlands","s":"Women","m":14.01,"v":97.8,"lo":92.7,"hi":99.6},
{"c":"Netherlands","s":"Women","m":23.5,"v":97.8,"lo":92.7,"hi":99.6},
{"c":"Netherlands","s":"Women","m":23.51,"v":96.2,"lo":90.5,"hi":99.6},
{"c":"Netherlands","s":"Women","m":24,"v":96.2,"lo":90.5,"hi":99.6},
{"c":"Netherlands","s":"Men","m":0,"v":100,"lo":100,"hi":100},
{"c":"Netherlands","s":"Men","m":0.9,"v":100,"lo":100,"hi":100},
{"c":"Netherlands","s":"Men","m":1,"v":99.3,"lo":98.6,"hi":100},
{"c":"Netherlands","s":"Men","m":13,"v":99.3,"lo":98.6,"hi":100},
{"c":"Netherlands","s":"Men","m":13.01,"v":98.8,"lo":97,"hi":99.8},
{"c":"Netherlands","s":"Men","m":24,"v":98.8,"lo":97,"hi":99.8}
]
},
"concat": [
{"width":380,"height":141,"data":{"name":"km"},"transform":[{"filter":"datum.c==='Denmark'"},{"lookup":"c","from":{"data":{"name":"lab"},"key":"c","fields":["t"]}}],"encoding":{"x":{"field":"m","type":"quantitative","scale":{"domain":[-1.2,24],"nice":false},"axis":{"values":[0,6,12,18,24],"labels":false,"title":null}}},"layer":[
{"transform":[{"filter":"datum.s==='Men'"}],"mark":{"type":"area","opacity":0.5},"encoding":{"y":{"field":"lo","type":"quantitative","scale":{"domain":[19.9,105],"nice":false,"zero":false},"axis":{"values":[25,50,75,100],"title":null}},"y2":{"field":"hi"},"color":{"field":"s","type":"nominal","scale":{"domain":["Women","Men"],"range":["#00D0F5","#FF4141"]},"legend":{"title":null}}}},
{"transform":[{"filter":"datum.s==='Men'"}],"mark":{"type":"line","color":"#F01E1E","strokeWidth":1},"encoding":{"y":{"field":"v","type":"quantitative","scale":{"domain":[19.9,105],"nice":false,"zero":false},"axis":{"values":[25,50,75,100],"title":null}}}},
{"transform":[{"filter":"datum.s==='Women'"}],"mark":{"type":"area","opacity":0.5},"encoding":{"y":{"field":"lo","type":"quantitative","scale":{"domain":[19.9,105],"nice":false,"zero":false},"axis":{"values":[25,50,75,100],"title":null}},"y2":{"field":"hi"},"color":{"field":"s","type":"nominal","scale":{"domain":["Women","Men"],"range":["#00D0F5","#FF4141"]},"legend":{"title":null}}}},
{"transform":[{"filter":"datum.s==='Women'"}],"mark":{"type":"line","color":"#1DB0DA","strokeWidth":1},"encoding":{"y":{"field":"v","type":"quantitative","scale":{"domain":[19.9,105],"nice":false,"zero":false},"axis":{"values":[25,50,75,100],"title":null}}}},
{"transform":[{"filter":"datum.s==='Women' && datum.m===0"}],"mark":{"type":"text","align":"left","baseline":"middle","fontSize":17.5,"font":"Lato","color":"#111111","lineBreak":"\n","lineHeight":23.5},"encoding":{"y":{"datum":55.5},"text":{"field":"t"}}}
]},
{"width":380,"height":141,"data":{"name":"km"},"transform":[{"filter":"datum.c==='Switzerland'"},{"lookup":"c","from":{"data":{"name":"lab"},"key":"c","fields":["t"]}}],"encoding":{"x":{"field":"m","type":"quantitative","scale":{"domain":[-1.2,24],"nice":false},"axis":{"values":[0,6,12,18,24],"labels":false,"title":null}}},"layer":[
{"transform":[{"filter":"datum.s==='Men'"}],"mark":{"type":"area","opacity":0.5},"encoding":{"y":{"field":"lo","type":"quantitative","scale":{"domain":[19.9,105],"nice":false,"zero":false},"axis":{"values":[25,50,75,100],"labels":false,"title":null}},"y2":{"field":"hi"},"color":{"field":"s","type":"nominal","scale":{"domain":["Women","Men"],"range":["#00D0F5","#FF4141"]},"legend":{"title":null}}}},
{"transform":[{"filter":"datum.s==='Men'"}],"mark":{"type":"line","color":"#F01E1E","strokeWidth":1},"encoding":{"y":{"field":"v","type":"quantitative","scale":{"domain":[19.9,105],"nice":false,"zero":false},"axis":{"values":[25,50,75,100],"labels":false,"title":null}}}},
{"transform":[{"filter":"datum.s==='Women'"}],"mark":{"type":"area","opacity":0.5},"encoding":{"y":{"field":"lo","type":"quantitative","scale":{"domain":[19.9,105],"nice":false,"zero":false},"axis":{"values":[25,50,75,100],"labels":false,"title":null}},"y2":{"field":"hi"},"color":{"field":"s","type":"nominal","scale":{"domain":["Women","Men"],"range":["#00D0F5","#FF4141"]},"legend":{"title":null}}}},
{"transform":[{"filter":"datum.s==='Women'"}],"mark":{"type":"line","color":"#1DB0DA","strokeWidth":1},"encoding":{"y":{"field":"v","type":"quantitative","scale":{"domain":[19.9,105],"nice":false,"zero":false},"axis":{"values":[25,50,75,100],"labels":false,"title":null}}}},
{"transform":[{"filter":"datum.s==='Women' && datum.m===0"}],"mark":{"type":"text","align":"left","baseline":"middle","fontSize":17.5,"font":"Lato","color":"#111111","lineBreak":"\n","lineHeight":23.5},"encoding":{"y":{"datum":55.5},"text":{"field":"t"}}}
]},
{"width":380,"height":141,"data":{"name":"km"},"transform":[{"filter":"datum.c==='Sweden'"},{"lookup":"c","from":{"data":{"name":"lab"},"key":"c","fields":["t"]}}],"encoding":{"x":{"field":"m","type":"quantitative","scale":{"domain":[-1.2,24],"nice":false},"axis":{"values":[0,6,12,18,24],"labels":false,"title":null}}},"layer":[
{"transform":[{"filter":"datum.s==='Men'"}],"mark":{"type":"area","opacity":0.5},"encoding":{"y":{"field":"lo","type":"quantitative","scale":{"domain":[19.9,105],"nice":false,"zero":false},"axis":{"values":[25,50,75,100],"labels":false,"title":null}},"y2":{"field":"hi"},"color":{"field":"s","type":"nominal","scale":{"domain":["Women","Men"],"range":["#00D0F5","#FF4141"]},"legend":{"title":null}}}},
{"transform":[{"filter":"datum.s==='Men'"}],"mark":{"type":"line","color":"#F01E1E","strokeWidth":1},"encoding":{"y":{"field":"v","type":"quantitative","scale":{"domain":[19.9,105],"nice":false,"zero":false},"axis":{"values":[25,50,75,100],"labels":false,"title":null}}}},
{"transform":[{"filter":"datum.s==='Women'"}],"mark":{"type":"area","opacity":0.5},"encoding":{"y":{"field":"lo","type":"quantitative","scale":{"domain":[19.9,105],"nice":false,"zero":false},"axis":{"values":[25,50,75,100],"labels":false,"title":null}},"y2":{"field":"hi"},"color":{"field":"s","type":"nominal","scale":{"domain":["Women","Men"],"range":["#00D0F5","#FF4141"]},"legend":{"title":null}}}},
{"transform":[{"filter":"datum.s==='Women'"}],"mark":{"type":"line","color":"#1DB0DA","strokeWidth":1},"encoding":{"y":{"field":"v","type":"quantitative","scale":{"domain":[19.9,105],"nice":false,"zero":false},"axis":{"values":[25,50,75,100],"labels":false,"title":null}}}},
{"transform":[{"filter":"datum.s==='Women' && datum.m===0"}],"mark":{"type":"text","align":"left","baseline":"middle","fontSize":17.5,"font":"Lato","color":"#111111","lineBreak":"\n","lineHeight":23.5},"encoding":{"y":{"datum":55.5},"text":{"field":"t"}}}
]},
{"width":380,"height":141,"data":{"name":"km"},"transform":[{"filter":"datum.c==='Norway'"},{"lookup":"c","from":{"data":{"name":"lab"},"key":"c","fields":["t"]}}],"encoding":{"x":{"field":"m","type":"quantitative","scale":{"domain":[-1.2,24],"nice":false},"axis":{"values":[0,6,12,18,24],"labels":false,"title":null}}},"layer":[
{"transform":[{"filter":"datum.s==='Men'"}],"mark":{"type":"area","opacity":0.5},"encoding":{"y":{"field":"lo","type":"quantitative","scale":{"domain":[19.9,105],"nice":false,"zero":false},"axis":{"values":[25,50,75,100],"title":null}},"y2":{"field":"hi"},"color":{"field":"s","type":"nominal","scale":{"domain":["Women","Men"],"range":["#00D0F5","#FF4141"]},"legend":{"title":null}}}},
{"transform":[{"filter":"datum.s==='Men'"}],"mark":{"type":"line","color":"#F01E1E","strokeWidth":1},"encoding":{"y":{"field":"v","type":"quantitative","scale":{"domain":[19.9,105],"nice":false,"zero":false},"axis":{"values":[25,50,75,100],"title":null}}}},
{"transform":[{"filter":"datum.s==='Women'"}],"mark":{"type":"area","opacity":0.5},"encoding":{"y":{"field":"lo","type":"quantitative","scale":{"domain":[19.9,105],"nice":false,"zero":false},"axis":{"values":[25,50,75,100],"title":null}},"y2":{"field":"hi"},"color":{"field":"s","type":"nominal","scale":{"domain":["Women","Men"],"range":["#00D0F5","#FF4141"]},"legend":{"title":null}}}},
{"transform":[{"filter":"datum.s==='Women'"}],"mark":{"type":"line","color":"#1DB0DA","strokeWidth":1},"encoding":{"y":{"field":"v","type":"quantitative","scale":{"domain":[19.9,105],"nice":false,"zero":false},"axis":{"values":[25,50,75,100],"title":null}}}},
{"transform":[{"filter":"datum.s==='Women' && datum.m===0"}],"mark":{"type":"text","align":"left","baseline":"middle","fontSize":17.5,"font":"Lato","color":"#111111","lineBreak":"\n","lineHeight":23.5},"encoding":{"y":{"datum":55.5},"text":{"field":"t"}}}
]},
{"width":380,"height":141,"data":{"name":"km"},"transform":[{"filter":"datum.c==='Czech Republic'"},{"lookup":"c","from":{"data":{"name":"lab"},"key":"c","fields":["t"]}}],"encoding":{"x":{"field":"m","type":"quantitative","scale":{"domain":[-1.2,24],"nice":false},"axis":{"values":[0,6,12,18,24],"labels":false,"title":null}}},"layer":[
{"transform":[{"filter":"datum.s==='Men'"}],"mark":{"type":"area","opacity":0.5},"encoding":{"y":{"field":"lo","type":"quantitative","scale":{"domain":[19.9,105],"nice":false,"zero":false},"axis":{"values":[25,50,75,100],"labels":false,"title":null}},"y2":{"field":"hi"},"color":{"field":"s","type":"nominal","scale":{"domain":["Women","Men"],"range":["#00D0F5","#FF4141"]},"legend":{"title":null}}}},
{"transform":[{"filter":"datum.s==='Men'"}],"mark":{"type":"line","color":"#F01E1E","strokeWidth":1},"encoding":{"y":{"field":"v","type":"quantitative","scale":{"domain":[19.9,105],"nice":false,"zero":false},"axis":{"values":[25,50,75,100],"labels":false,"title":null}}}},
{"transform":[{"filter":"datum.s==='Women'"}],"mark":{"type":"area","opacity":0.5},"encoding":{"y":{"field":"lo","type":"quantitative","scale":{"domain":[19.9,105],"nice":false,"zero":false},"axis":{"values":[25,50,75,100],"labels":false,"title":null}},"y2":{"field":"hi"},"color":{"field":"s","type":"nominal","scale":{"domain":["Women","Men"],"range":["#00D0F5","#FF4141"]},"legend":{"title":null}}}},
{"transform":[{"filter":"datum.s==='Women'"}],"mark":{"type":"line","color":"#1DB0DA","strokeWidth":1},"encoding":{"y":{"field":"v","type":"quantitative","scale":{"domain":[19.9,105],"nice":false,"zero":false},"axis":{"values":[25,50,75,100],"labels":false,"title":null}}}},
{"transform":[{"filter":"datum.s==='Women' && datum.m===0"}],"mark":{"type":"text","align":"left","baseline":"middle","fontSize":17.5,"font":"Lato","color":"#111111","lineBreak":"\n","lineHeight":23.5},"encoding":{"y":{"datum":55.5},"text":{"field":"t"}}}
]},
{"width":380,"height":141,"data":{"name":"km"},"transform":[{"filter":"datum.c==='Finland'"},{"lookup":"c","from":{"data":{"name":"lab"},"key":"c","fields":["t"]}}],"encoding":{"x":{"field":"m","type":"quantitative","scale":{"domain":[-1.2,24],"nice":false},"axis":{"values":[0,6,12,18,24],"labels":false,"title":null}}},"layer":[
{"transform":[{"filter":"datum.s==='Men'"}],"mark":{"type":"area","opacity":0.5},"encoding":{"y":{"field":"lo","type":"quantitative","scale":{"domain":[19.9,105],"nice":false,"zero":false},"axis":{"values":[25,50,75,100],"labels":false,"title":null}},"y2":{"field":"hi"},"color":{"field":"s","type":"nominal","scale":{"domain":["Women","Men"],"range":["#00D0F5","#FF4141"]},"legend":{"title":null}}}},
{"transform":[{"filter":"datum.s==='Men'"}],"mark":{"type":"line","color":"#F01E1E","strokeWidth":1},"encoding":{"y":{"field":"v","type":"quantitative","scale":{"domain":[19.9,105],"nice":false,"zero":false},"axis":{"values":[25,50,75,100],"labels":false,"title":null}}}},
{"transform":[{"filter":"datum.s==='Women'"}],"mark":{"type":"area","opacity":0.5},"encoding":{"y":{"field":"lo","type":"quantitative","scale":{"domain":[19.9,105],"nice":false,"zero":false},"axis":{"values":[25,50,75,100],"labels":false,"title":null}},"y2":{"field":"hi"},"color":{"field":"s","type":"nominal","scale":{"domain":["Women","Men"],"range":["#00D0F5","#FF4141"]},"legend":{"title":null}}}},
{"transform":[{"filter":"datum.s==='Women'"}],"mark":{"type":"line","color":"#1DB0DA","strokeWidth":1},"encoding":{"y":{"field":"v","type":"quantitative","scale":{"domain":[19.9,105],"nice":false,"zero":false},"axis":{"values":[25,50,75,100],"labels":false,"title":null}}}},
{"transform":[{"filter":"datum.s==='Women' && datum.m===0"}],"mark":{"type":"text","align":"left","baseline":"middle","fontSize":17.5,"font":"Lato","color":"#111111","lineBreak":"\n","lineHeight":23.5},"encoding":{"y":{"datum":55.5},"text":{"field":"t"}}}
]},
{"width":380,"height":141,"data":{"name":"km"},"transform":[{"filter":"datum.c==='Portugal'"},{"lookup":"c","from":{"data":{"name":"lab"},"key":"c","fields":["t"]}}],"encoding":{"x":{"field":"m","type":"quantitative","scale":{"domain":[-1.2,24],"nice":false},"axis":{"values":[0,6,12,18,24],"labels":false,"title":null}}},"layer":[
{"transform":[{"filter":"datum.s==='Men'"}],"mark":{"type":"area","opacity":0.5},"encoding":{"y":{"field":"lo","type":"quantitative","scale":{"domain":[19.9,105],"nice":false,"zero":false},"axis":{"values":[25,50,75,100],"title":null}},"y2":{"field":"hi"},"color":{"field":"s","type":"nominal","scale":{"domain":["Women","Men"],"range":["#00D0F5","#FF4141"]},"legend":{"title":null}}}},
{"transform":[{"filter":"datum.s==='Men'"}],"mark":{"type":"line","color":"#F01E1E","strokeWidth":1},"encoding":{"y":{"field":"v","type":"quantitative","scale":{"domain":[19.9,105],"nice":false,"zero":false},"axis":{"values":[25,50,75,100],"title":null}}}},
{"transform":[{"filter":"datum.s==='Women'"}],"mark":{"type":"area","opacity":0.5},"encoding":{"y":{"field":"lo","type":"quantitative","scale":{"domain":[19.9,105],"nice":false,"zero":false},"axis":{"values":[25,50,75,100],"title":null}},"y2":{"field":"hi"},"color":{"field":"s","type":"nominal","scale":{"domain":["Women","Men"],"range":["#00D0F5","#FF4141"]},"legend":{"title":null}}}},
{"transform":[{"filter":"datum.s==='Women'"}],"mark":{"type":"line","color":"#1DB0DA","strokeWidth":1},"encoding":{"y":{"field":"v","type":"quantitative","scale":{"domain":[19.9,105],"nice":false,"zero":false},"axis":{"values":[25,50,75,100],"title":null}}}},
{"transform":[{"filter":"datum.s==='Women' && datum.m===0"}],"mark":{"type":"text","align":"left","baseline":"middle","fontSize":17.5,"font":"Lato","color":"#111111","lineBreak":"\n","lineHeight":23.5},"encoding":{"y":{"datum":55.5},"text":{"field":"t"}}}
]},
{"width":380,"height":141,"data":{"name":"km"},"transform":[{"filter":"datum.c==='Italy'"},{"lookup":"c","from":{"data":{"name":"lab"},"key":"c","fields":["t"]}}],"encoding":{"x":{"field":"m","type":"quantitative","scale":{"domain":[-1.2,24],"nice":false},"axis":{"values":[0,6,12,18,24],"labels":false,"title":null}}},"layer":[
{"transform":[{"filter":"datum.s==='Men'"}],"mark":{"type":"area","opacity":0.5},"encoding":{"y":{"field":"lo","type":"quantitative","scale":{"domain":[19.9,105],"nice":false,"zero":false},"axis":{"values":[25,50,75,100],"labels":false,"title":null}},"y2":{"field":"hi"},"color":{"field":"s","type":"nominal","scale":{"domain":["Women","Men"],"range":["#00D0F5","#FF4141"]},"legend":{"title":null}}}},
{"transform":[{"filter":"datum.s==='Men'"}],"mark":{"type":"line","color":"#F01E1E","strokeWidth":1},"encoding":{"y":{"field":"v","type":"quantitative","scale":{"domain":[19.9,105],"nice":false,"zero":false},"axis":{"values":[25,50,75,100],"labels":false,"title":null}}}},
{"transform":[{"filter":"datum.s==='Women'"}],"mark":{"type":"area","opacity":0.5},"encoding":{"y":{"field":"lo","type":"quantitative","scale":{"domain":[19.9,105],"nice":false,"zero":false},"axis":{"values":[25,50,75,100],"labels":false,"title":null}},"y2":{"field":"hi"},"color":{"field":"s","type":"nominal","scale":{"domain":["Women","Men"],"range":["#00D0F5","#FF4141"]},"legend":{"title":null}}}},
{"transform":[{"filter":"datum.s==='Women'"}],"mark":{"type":"line","color":"#1DB0DA","strokeWidth":1},"encoding":{"y":{"field":"v","type":"quantitative","scale":{"domain":[19.9,105],"nice":false,"zero":false},"axis":{"values":[25,50,75,100],"labels":false,"title":null}}}},
{"transform":[{"filter":"datum.s==='Women' && datum.m===0"}],"mark":{"type":"text","align":"left","baseline":"middle","fontSize":17.5,"font":"Lato","color":"#111111","lineBreak":"\n","lineHeight":23.5},"encoding":{"y":{"datum":55.5},"text":{"field":"t"}}}
]},
{"width":380,"height":141,"data":{"name":"km"},"transform":[{"filter":"datum.c==='Turkey'"},{"lookup":"c","from":{"data":{"name":"lab"},"key":"c","fields":["t"]}}],"encoding":{"x":{"field":"m","type":"quantitative","scale":{"domain":[-1.2,24],"nice":false},"axis":{"values":[0,6,12,18,24],"labels":false,"title":null}}},"layer":[
{"transform":[{"filter":"datum.s==='Men'"}],"mark":{"type":"area","opacity":0.5},"encoding":{"y":{"field":"lo","type":"quantitative","scale":{"domain":[19.9,105],"nice":false,"zero":false},"axis":{"values":[25,50,75,100],"labels":false,"title":null}},"y2":{"field":"hi"},"color":{"field":"s","type":"nominal","scale":{"domain":["Women","Men"],"range":["#00D0F5","#FF4141"]},"legend":{"title":null}}}},
{"transform":[{"filter":"datum.s==='Men'"}],"mark":{"type":"line","color":"#F01E1E","strokeWidth":1},"encoding":{"y":{"field":"v","type":"quantitative","scale":{"domain":[19.9,105],"nice":false,"zero":false},"axis":{"values":[25,50,75,100],"labels":false,"title":null}}}},
{"transform":[{"filter":"datum.s==='Women'"}],"mark":{"type":"area","opacity":0.5},"encoding":{"y":{"field":"lo","type":"quantitative","scale":{"domain":[19.9,105],"nice":false,"zero":false},"axis":{"values":[25,50,75,100],"labels":false,"title":null}},"y2":{"field":"hi"},"color":{"field":"s","type":"nominal","scale":{"domain":["Women","Men"],"range":["#00D0F5","#FF4141"]},"legend":{"title":null}}}},
{"transform":[{"filter":"datum.s==='Women'"}],"mark":{"type":"line","color":"#1DB0DA","strokeWidth":1},"encoding":{"y":{"field":"v","type":"quantitative","scale":{"domain":[19.9,105],"nice":false,"zero":false},"axis":{"values":[25,50,75,100],"labels":false,"title":null}}}},
{"transform":[{"filter":"datum.s==='Women' && datum.m===0"}],"mark":{"type":"text","align":"left","baseline":"middle","fontSize":17.5,"font":"Lato","color":"#111111","lineBreak":"\n","lineHeight":23.5},"encoding":{"y":{"datum":55.5},"text":{"field":"t"}}}
]},
{"width":380,"height":141,"data":{"name":"km"},"transform":[{"filter":"datum.c==='United Kingdom'"},{"lookup":"c","from":{"data":{"name":"lab"},"key":"c","fields":["t"]}}],"encoding":{"x":{"field":"m","type":"quantitative","scale":{"domain":[-1.2,24],"nice":false},"axis":{"values":[0,6,12,18,24],"labels":false,"title":null}}},"layer":[
{"transform":[{"filter":"datum.s==='Men'"}],"mark":{"type":"area","opacity":0.5},"encoding":{"y":{"field":"lo","type":"quantitative","scale":{"domain":[19.9,105],"nice":false,"zero":false},"axis":{"values":[25,50,75,100],"title":null}},"y2":{"field":"hi"},"color":{"field":"s","type":"nominal","scale":{"domain":["Women","Men"],"range":["#00D0F5","#FF4141"]},"legend":{"title":null}}}},
{"transform":[{"filter":"datum.s==='Men'"}],"mark":{"type":"line","color":"#F01E1E","strokeWidth":1},"encoding":{"y":{"field":"v","type":"quantitative","scale":{"domain":[19.9,105],"nice":false,"zero":false},"axis":{"values":[25,50,75,100],"title":null}}}},
{"transform":[{"filter":"datum.s==='Women'"}],"mark":{"type":"area","opacity":0.5},"encoding":{"y":{"field":"lo","type":"quantitative","scale":{"domain":[19.9,105],"nice":false,"zero":false},"axis":{"values":[25,50,75,100],"title":null}},"y2":{"field":"hi"},"color":{"field":"s","type":"nominal","scale":{"domain":["Women","Men"],"range":["#00D0F5","#FF4141"]},"legend":{"title":null}}}},
{"transform":[{"filter":"datum.s==='Women'"}],"mark":{"type":"line","color":"#1DB0DA","strokeWidth":1},"encoding":{"y":{"field":"v","type":"quantitative","scale":{"domain":[19.9,105],"nice":false,"zero":false},"axis":{"values":[25,50,75,100],"title":null}}}},
{"transform":[{"filter":"datum.s==='Women' && datum.m===0"}],"mark":{"type":"text","align":"left","baseline":"middle","fontSize":17.5,"font":"Lato","color":"#111111","lineBreak":"\n","lineHeight":23.5},"encoding":{"y":{"datum":55.5},"text":{"field":"t"}}}
]},
{"width":380,"height":141,"data":{"name":"km"},"transform":[{"filter":"datum.c==='Romania'"},{"lookup":"c","from":{"data":{"name":"lab"},"key":"c","fields":["t"]}}],"encoding":{"x":{"field":"m","type":"quantitative","scale":{"domain":[-1.2,24],"nice":false},"axis":{"values":[0,6,12,18,24],"labels":false,"title":null}}},"layer":[
{"transform":[{"filter":"datum.s==='Men'"}],"mark":{"type":"area","opacity":0.5},"encoding":{"y":{"field":"lo","type":"quantitative","scale":{"domain":[19.9,105],"nice":false,"zero":false},"axis":{"values":[25,50,75,100],"labels":false,"title":null}},"y2":{"field":"hi"},"color":{"field":"s","type":"nominal","scale":{"domain":["Women","Men"],"range":["#00D0F5","#FF4141"]},"legend":{"title":null}}}},
{"transform":[{"filter":"datum.s==='Men'"}],"mark":{"type":"line","color":"#F01E1E","strokeWidth":1},"encoding":{"y":{"field":"v","type":"quantitative","scale":{"domain":[19.9,105],"nice":false,"zero":false},"axis":{"values":[25,50,75,100],"labels":false,"title":null}}}},
{"transform":[{"filter":"datum.s==='Women'"}],"mark":{"type":"area","opacity":0.5},"encoding":{"y":{"field":"lo","type":"quantitative","scale":{"domain":[19.9,105],"nice":false,"zero":false},"axis":{"values":[25,50,75,100],"labels":false,"title":null}},"y2":{"field":"hi"},"color":{"field":"s","type":"nominal","scale":{"domain":["Women","Men"],"range":["#00D0F5","#FF4141"]},"legend":{"title":null}}}},
{"transform":[{"filter":"datum.s==='Women'"}],"mark":{"type":"line","color":"#1DB0DA","strokeWidth":1},"encoding":{"y":{"field":"v","type":"quantitative","scale":{"domain":[19.9,105],"nice":false,"zero":false},"axis":{"values":[25,50,75,100],"labels":false,"title":null}}}},
{"transform":[{"filter":"datum.s==='Women' && datum.m===0"}],"mark":{"type":"text","align":"left","baseline":"middle","fontSize":17.5,"font":"Lato","color":"#111111","lineBreak":"\n","lineHeight":23.5},"encoding":{"y":{"datum":55.5},"text":{"field":"t"}}}
]},
{"width":380,"height":141,"data":{"name":"km"},"transform":[{"filter":"datum.c==='Slovenia'"},{"lookup":"c","from":{"data":{"name":"lab"},"key":"c","fields":["t"]}}],"encoding":{"x":{"field":"m","type":"quantitative","scale":{"domain":[-1.2,24],"nice":false},"axis":{"values":[0,6,12,18,24],"labels":false,"title":null}}},"layer":[
{"transform":[{"filter":"datum.s==='Men'"}],"mark":{"type":"area","opacity":0.5},"encoding":{"y":{"field":"lo","type":"quantitative","scale":{"domain":[19.9,105],"nice":false,"zero":false},"axis":{"values":[25,50,75,100],"labels":false,"title":null}},"y2":{"field":"hi"},"color":{"field":"s","type":"nominal","scale":{"domain":["Women","Men"],"range":["#00D0F5","#FF4141"]},"legend":{"title":null}}}},
{"transform":[{"filter":"datum.s==='Men'"}],"mark":{"type":"line","color":"#F01E1E","strokeWidth":1},"encoding":{"y":{"field":"v","type":"quantitative","scale":{"domain":[19.9,105],"nice":false,"zero":false},"axis":{"values":[25,50,75,100],"labels":false,"title":null}}}},
{"transform":[{"filter":"datum.s==='Women'"}],"mark":{"type":"area","opacity":0.5},"encoding":{"y":{"field":"lo","type":"quantitative","scale":{"domain":[19.9,105],"nice":false,"zero":false},"axis":{"values":[25,50,75,100],"labels":false,"title":null}},"y2":{"field":"hi"},"color":{"field":"s","type":"nominal","scale":{"domain":["Women","Men"],"range":["#00D0F5","#FF4141"]},"legend":{"title":null}}}},
{"transform":[{"filter":"datum.s==='Women'"}],"mark":{"type":"line","color":"#1DB0DA","strokeWidth":1},"encoding":{"y":{"field":"v","type":"quantitative","scale":{"domain":[19.9,105],"nice":false,"zero":false},"axis":{"values":[25,50,75,100],"labels":false,"title":null}}}},
{"transform":[{"filter":"datum.s==='Women' && datum.m===0"}],"mark":{"type":"text","align":"left","baseline":"middle","fontSize":17.5,"font":"Lato","color":"#111111","lineBreak":"\n","lineHeight":23.5},"encoding":{"y":{"datum":55.5},"text":{"field":"t"}}}
]},
{"width":380,"height":141,"data":{"name":"km"},"transform":[{"filter":"datum.c==='Spain'"},{"lookup":"c","from":{"data":{"name":"lab"},"key":"c","fields":["t"]}}],"encoding":{"x":{"field":"m","type":"quantitative","scale":{"domain":[-1.2,24],"nice":false},"axis":{"values":[0,6,12,18,24],"title":null}}},"layer":[
{"transform":[{"filter":"datum.s==='Men'"}],"mark":{"type":"area","opacity":0.5},"encoding":{"y":{"field":"lo","type":"quantitative","scale":{"domain":[19.9,105],"nice":false,"zero":false},"axis":{"values":[25,50,75,100],"title":null}},"y2":{"field":"hi"},"color":{"field":"s","type":"nominal","scale":{"domain":["Women","Men"],"range":["#00D0F5","#FF4141"]},"legend":{"title":null}}}},
{"transform":[{"filter":"datum.s==='Men'"}],"mark":{"type":"line","color":"#F01E1E","strokeWidth":1},"encoding":{"y":{"field":"v","type":"quantitative","scale":{"domain":[19.9,105],"nice":false,"zero":false},"axis":{"values":[25,50,75,100],"title":null}}}},
{"transform":[{"filter":"datum.s==='Women'"}],"mark":{"type":"area","opacity":0.5},"encoding":{"y":{"field":"lo","type":"quantitative","scale":{"domain":[19.9,105],"nice":false,"zero":false},"axis":{"values":[25,50,75,100],"title":null}},"y2":{"field":"hi"},"color":{"field":"s","type":"nominal","scale":{"domain":["Women","Men"],"range":["#00D0F5","#FF4141"]},"legend":{"title":null}}}},
{"transform":[{"filter":"datum.s==='Women'"}],"mark":{"type":"line","color":"#1DB0DA","strokeWidth":1},"encoding":{"y":{"field":"v","type":"quantitative","scale":{"domain":[19.9,105],"nice":false,"zero":false},"axis":{"values":[25,50,75,100],"title":null}}}},
{"transform":[{"filter":"datum.s==='Women' && datum.m===0"}],"mark":{"type":"text","align":"left","baseline":"middle","fontSize":17.5,"font":"Lato","color":"#111111","lineBreak":"\n","lineHeight":23.5},"encoding":{"y":{"datum":55.5},"text":{"field":"t"}}}
]},
{"width":380,"height":141,"data":{"name":"km"},"transform":[{"filter":"datum.c==='Iceland'"},{"lookup":"c","from":{"data":{"name":"lab"},"key":"c","fields":["t"]}}],"encoding":{"x":{"field":"m","type":"quantitative","scale":{"domain":[-1.2,24],"nice":false},"axis":{"values":[0,6,12,18,24],"title":"Month","titleFontSize":24,"titleFontWeight":"bold","titleFont":"Lato","titleColor":"#000000","titlePadding":5}}},"layer":[
{"transform":[{"filter":"datum.s==='Men'"}],"mark":{"type":"area","opacity":0.5},"encoding":{"y":{"field":"lo","type":"quantitative","scale":{"domain":[19.9,105],"nice":false,"zero":false},"axis":{"values":[25,50,75,100],"labels":false,"title":null}},"y2":{"field":"hi"},"color":{"field":"s","type":"nominal","scale":{"domain":["Women","Men"],"range":["#00D0F5","#FF4141"]},"legend":{"title":null}}}},
{"transform":[{"filter":"datum.s==='Men'"}],"mark":{"type":"line","color":"#F01E1E","strokeWidth":1},"encoding":{"y":{"field":"v","type":"quantitative","scale":{"domain":[19.9,105],"nice":false,"zero":false},"axis":{"values":[25,50,75,100],"labels":false,"title":null}}}},
{"transform":[{"filter":"datum.s==='Women'"}],"mark":{"type":"area","opacity":0.5},"encoding":{"y":{"field":"lo","type":"quantitative","scale":{"domain":[19.9,105],"nice":false,"zero":false},"axis":{"values":[25,50,75,100],"labels":false,"title":null}},"y2":{"field":"hi"},"color":{"field":"s","type":"nominal","scale":{"domain":["Women","Men"],"range":["#00D0F5","#FF4141"]},"legend":{"title":null}}}},
{"transform":[{"filter":"datum.s==='Women'"}],"mark":{"type":"line","color":"#1DB0DA","strokeWidth":1},"encoding":{"y":{"field":"v","type":"quantitative","scale":{"domain":[19.9,105],"nice":false,"zero":false},"axis":{"values":[25,50,75,100],"labels":false,"title":null}}}},
{"transform":[{"filter":"datum.s==='Women' && datum.m===0"}],"mark":{"type":"text","align":"left","baseline":"middle","fontSize":17.5,"font":"Lato","color":"#111111","lineBreak":"\n","lineHeight":23.5},"encoding":{"y":{"datum":55.5},"text":{"field":"t"}}}
]},
{"width":380,"height":141,"data":{"name":"km"},"transform":[{"filter":"datum.c==='Netherlands'"},{"lookup":"c","from":{"data":{"name":"lab"},"key":"c","fields":["t"]}}],"encoding":{"x":{"field":"m","type":"quantitative","scale":{"domain":[-1.2,24],"nice":false},"axis":{"values":[0,6,12,18,24],"title":null}}},"layer":[
{"transform":[{"filter":"datum.s==='Men'"}],"mark":{"type":"area","opacity":0.5},"encoding":{"y":{"field":"lo","type":"quantitative","scale":{"domain":[19.9,105],"nice":false,"zero":false},"axis":{"values":[25,50,75,100],"labels":false,"title":null}},"y2":{"field":"hi"},"color":{"field":"s","type":"nominal","scale":{"domain":["Women","Men"],"range":["#00D0F5","#FF4141"]},"legend":{"title":null}}}},
{"transform":[{"filter":"datum.s==='Men'"}],"mark":{"type":"line","color":"#F01E1E","strokeWidth":1},"encoding":{"y":{"field":"v","type":"quantitative","scale":{"domain":[19.9,105],"nice":false,"zero":false},"axis":{"values":[25,50,75,100],"labels":false,"title":null}}}},
{"transform":[{"filter":"datum.s==='Women'"}],"mark":{"type":"area","opacity":0.5},"encoding":{"y":{"field":"lo","type":"quantitative","scale":{"domain":[19.9,105],"nice":false,"zero":false},"axis":{"values":[25,50,75,100],"labels":false,"title":null}},"y2":{"field":"hi"},"color":{"field":"s","type":"nominal","scale":{"domain":["Women","Men"],"range":["#00D0F5","#FF4141"]},"legend":{"title":null}}}},
{"transform":[{"filter":"datum.s==='Women'"}],"mark":{"type":"line","color":"#1DB0DA","strokeWidth":1},"encoding":{"y":{"field":"v","type":"quantitative","scale":{"domain":[19.9,105],"nice":false,"zero":false},"axis":{"values":[25,50,75,100],"labels":false,"title":null}}}},
{"transform":[{"filter":"datum.s==='Women' && datum.m===0"}],"mark":{"type":"text","align":"left","baseline":"middle","fontSize":17.5,"font":"Lato","color":"#111111","lineBreak":"\n","lineHeight":23.5},"encoding":{"y":{"datum":55.5},"text":{"field":"t"}}}
]}
],
"columns": 3,
"spacing": {"row": 29, "column": 42},
"bounds": "flush",
"config": {
"font": "Lato",
"view": {"stroke": "#2a2a2a", "strokeWidth": 1.3},
"axis": {"domain": false, "grid": true, "gridColor": "#f2f2f2", "gridWidth": 0.8, "tickColor": "#333333", "tickSize": 5, "tickWidth": 1, "labelFontSize": 14, "labelColor": "#1a1a1a", "labelFont": "Lato", "labelPadding": 3},
"axisX": {"labelPadding": 4},
"legend": {"orient": "none", "legendX": 530, "legendY": -29, "direction": "horizontal", "symbolType": "square", "symbolSize": 290, "symbolOpacity": 0.55, "symbolStrokeWidth": 0, "labelFontSize": 20, "labelFont": "Lato", "labelColor": "#111111", "columnPadding": 12, "labelOffset": 5}
}
}
